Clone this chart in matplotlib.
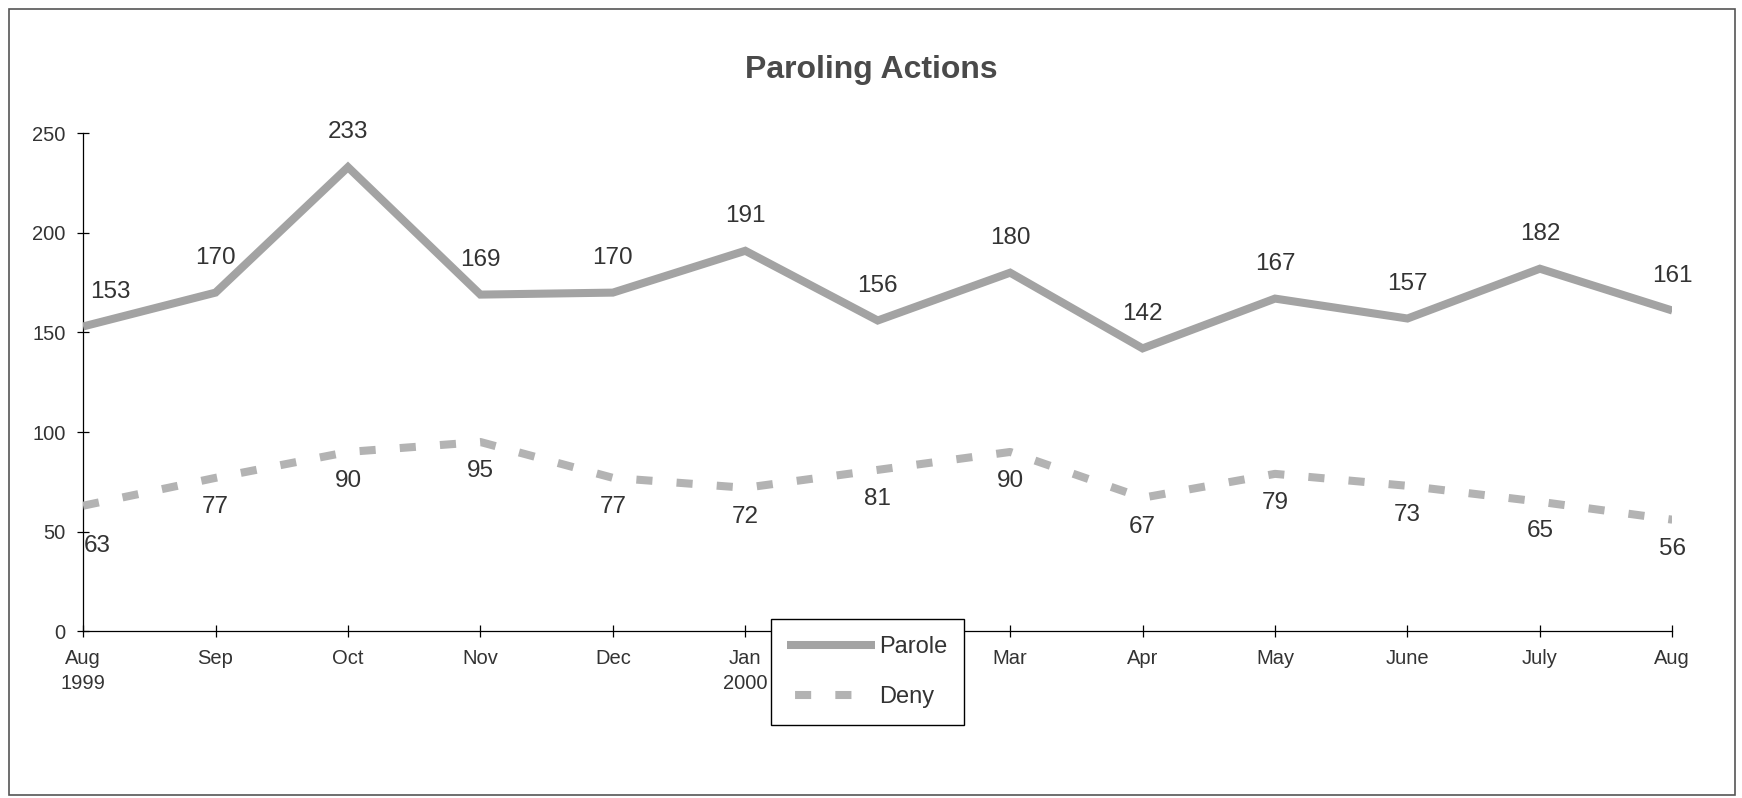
import matplotlib
matplotlib.use("Agg")
import matplotlib.pyplot as plt
from matplotlib.lines import Line2D
from matplotlib.patches import Rectangle

plt.rcParams['font.family'] = ['Liberation Sans', 'DejaVu Sans']

# data
months = ['Aug\n1999', 'Sep', 'Oct', 'Nov', 'Dec', 'Jan\n2000', 'Feb',
          'Mar', 'Apr', 'May', 'June', 'July', 'Aug']
parole = [153, 170, 233, 169, 170, 191, 156, 180, 142, 167, 157, 182, 161]
deny = [63, 77, 90, 95, 77, 72, 81, 90, 67, 79, 73, 65, 56]
y_ticks = [0, 50, 100, 150, 200, 250]

text_col = '#333333'
parole_col = '#a3a3a3'
deny_col = '#b3b3b3'

fig = plt.figure(figsize=(17.42, 7.98), dpi=100)
ax = fig.add_axes([0.0477, 0.209, 0.9123, 0.624])

x = list(range(len(months)))
ax.plot(x, parole, color=parole_col, lw=5.8, solid_capstyle='butt',
        solid_joinstyle='miter', label='Parole', zorder=3)
ax.plot(x, deny, color=deny_col, lw=5.8, linestyle=(0, (2.0, 3.0)),
        dash_capstyle='butt', label='Deny', zorder=3)

# value labels: parole above, deny below
for i, v in enumerate(parole):
    dx = 20 if i == 0 else 0
    ax.annotate(str(v), (i, v), xytext=(dx, 25), textcoords='offset points',
                ha='center', va='center', fontsize=17.5, color=text_col)
for i, v in enumerate(deny):
    dx, dy = (10, -29) if i == 0 else (0, -21)
    ax.annotate(str(v), (i, v), xytext=(dx, dy), textcoords='offset points',
                ha='center', va='center', fontsize=17.5, color=text_col)

ax.set_xlim(0, len(months) - 1)
ax.set_ylim(0, 250)
ax.set_xticks(x)
ax.set_xticklabels(months, fontsize=14.5, color=text_col, linespacing=1.45)
# the Feb label sits under the legend in the original
ax.get_xticklabels()[months.index('Feb')].set_visible(False)
ax.set_yticks(y_ticks)
ax.set_yticklabels([str(t) for t in y_ticks], fontsize=14.5, color=text_col)
ax.tick_params(axis='both', direction='inout', length=9, width=0.9)
ax.tick_params(axis='x', pad=8)
ax.tick_params(axis='y', pad=8)
for side in ['top', 'right']:
    ax.spines[side].set_visible(False)
for side in ['left', 'bottom']:
    ax.spines[side].set_linewidth(0.9)

fig.text(0.5, 0.912, 'Paroling Actions', ha='center', va='center',
         fontsize=23, fontweight='bold', color='#4a4a4a')

# legend handles: deny sample shows two dashes with a gap before the text
handles = [Line2D([], [], color=parole_col, lw=5.8, solid_capstyle='butt'),
           Line2D([], [], color=deny_col, lw=5.8, linestyle=(4.0, (2.0, 3.0)),
                  dash_capstyle='butt')]
leg = fig.legend(handles, ['Parole', 'Deny'], loc='upper left',
                 bbox_to_anchor=(0.4425, 0.224),
                 fontsize=17, frameon=True, fancybox=False, edgecolor='black',
                 framealpha=1, handlelength=3.7, handletextpad=0.2,
                 labelspacing=1.2, borderpad=0.7, borderaxespad=0)
leg.get_frame().set_linewidth(1.0)
for t in leg.get_texts():
    t.set_color(text_col)

# border round the whole page
fig.patches.append(Rectangle((0.005, 0.004), 0.991, 0.985, transform=fig.transFigure,
                             fill=False, edgecolor='#555555', lw=1.2))

fig.savefig('out.png', dpi=100)
